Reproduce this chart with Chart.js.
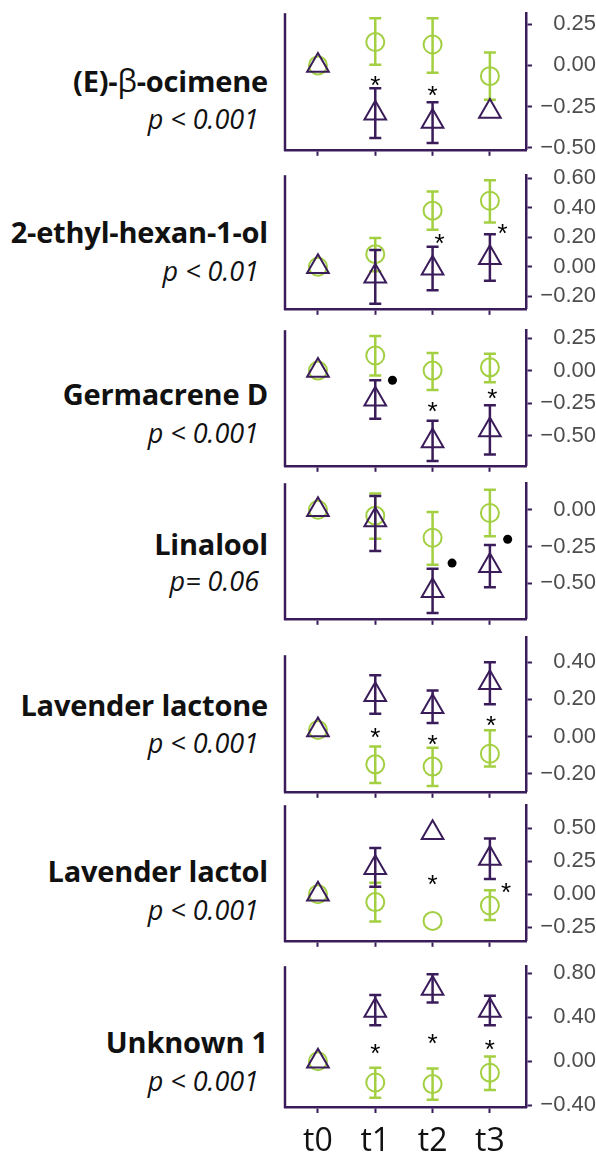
<!DOCTYPE html>
<html>
<head>
<meta charset="utf-8">
<script src="https://cdn.jsdelivr.net/npm/chart.js@4.4.1/dist/chart.umd.min.js"></script>
<style>
  html, body { margin:0; padding:0; background:#fff; }
  body { width:596px; height:1159px; position:relative; overflow:hidden; }
  canvas.panel { position:absolute; left:270px; }
  .name, .pval { position:absolute; white-space:nowrap; line-height:1; color:#111; }
  .name { right:328px; font:bold 29px 'Open Sans', sans-serif; letter-spacing:-0.2px; }
  .name .sym { font-weight:normal; font-size:31px; }
  .pval { right:337px; font:italic 27px 'Open Sans', sans-serif; }
</style>
</head>
<body>
<script>
/* ---------- data ---------- */
const categories = ['t0', 't1', 't2', 't3'];
const compounds  = ['(E)-β-ocimene', '2-ethyl-hexan-1-ol', 'Germacrene D', 'Linalool',
                    'Lavender lactone', 'Lavender lactol', 'Unknown 1'];
const pLabels    = ['p < 0.001', 'p < 0.01', 'p < 0.001', 'p= 0.06', 'p < 0.001', 'p < 0.001', 'p < 0.001'];

// y scale range and tick labels per panel
const yMin   = [-0.512, -0.285, -0.73, -0.74, -0.298, -0.354, -0.415];
const yMax   = [ 0.317,  0.62,   0.31,  0.18,  0.535,  0.675,  0.862];
const yTicks = [
  [-0.5, -0.25, 0, 0.25],
  [-0.2, 0, 0.2, 0.4, 0.6],
  [-0.5, -0.25, 0, 0.25],
  [-0.5, -0.25, 0],
  [-0.2, 0, 0.2, 0.4],
  [-0.25, 0, 0.25, 0.5],
  [-0.4, 0, 0.4, 0.8]
];

// green circles: mean, lower and upper error
const greenMean = [
  [0, 0.142, 0.127, -0.065],
  [0, 0.085, 0.38, 0.447],
  [0, 0.116, 0.0, 0.025],
  [0, -0.04, -0.19, -0.022],
  [0.035, -0.15, -0.162, -0.093],
  [0, -0.06, -0.203, -0.086],
  [0, -0.193, -0.207, -0.104]
];
const greenLo = [
  [null, 0.004, -0.045, -0.209],
  [null, -0.03, 0.25, 0.30],
  [null, -0.037, -0.148, -0.09],
  [null, -0.197, -0.373, -0.18],
  [null, -0.25, -0.267, -0.162],
  [null, -0.207, null, -0.196],
  [null, -0.33, -0.35, -0.26]
];
const greenHi = [
  [null, 0.287, 0.287, 0.079],
  [null, 0.195, 0.51, 0.585],
  [null, 0.265, 0.136, 0.13],
  [null, 0.11, -0.016, 0.136],
  [null, -0.054, -0.061, 0.033],
  [null, 0.086, null, 0.03],
  [null, -0.06, -0.065, 0.044]
];

// purple triangles: mean, lower and upper error
const purpleMean = [
  [0, -0.29, -0.34, -0.28],
  [0, -0.065, -0.01, 0.06],
  [0, -0.22, -0.54, -0.455],
  [0, -0.07, -0.55, -0.38],
  [0.035, 0.225, 0.16, 0.29],
  [0, 0.2, 0.465, 0.27],
  [0, 0.46, 0.66, 0.46]
];
const purpleLo = [
  [null, -0.44, -0.47, null],
  [null, -0.25, -0.16, -0.095],
  [null, -0.37, -0.693, -0.644],
  [null, -0.28, -0.70, -0.526],
  [null, 0.122, 0.073, 0.174],
  [null, 0.056, null, 0.115],
  [null, 0.326, 0.533, 0.326]
];
const purpleHi = [
  [null, -0.138, -0.223, null],
  [null, 0.114, 0.135, 0.22],
  [null, -0.074, -0.384, -0.265],
  [null, 0.094, -0.40, -0.24],
  [null, 0.33, 0.248, 0.40],
  [null, 0.35, null, 0.423],
  [null, 0.6, 0.79, 0.593]
];

// significance marks [x, y]
const starMarks = [
  [[1, -0.085], [2, -0.145]],
  [[2.12, 0.2], [3.22, 0.267]],
  [[2, -0.267], [3.04, -0.166]],
  [],
  [[1, 0.03], [2, -0.01], [3.02, 0.096]],
  [[2, 0.12], [3.28, 0.06]],
  [[1, 0.133], [2, 0.222], [3, 0.163]]
];
const dotMarks = [
  [], [], [[1.30, -0.074]], [[2.34, -0.362], [3.31, -0.2]], [], [], []
];

/* ---------- layout ---------- */
const panelTop    = [11, 173, 328, 481, 635, 803, 964];
const panelBottom = [152, 311, 468, 621, 794, 943, 1107];
const leftDrop    = [0, 0, 0, 0, 18, 0, 0];   // left frame line starts lower
const nameBase    = [85, 238, 400, 550, 711, 877, 1048];
const pBase       = [124, 276, 438, 586, 748, 915, 1086];

const PURPLE = '#3b1c5a';
const GREEN  = '#a3cf42';
const PADTOP = 16;
const NAME_PX = 29, P_PX = 27;

const fmt = v => (v < 0 ? '\u2212' : '') + Math.abs(v).toFixed(2);

const errorBars = {
  id: 'errorBars',
  beforeDatasetDraw(chart, args) {
    const ds = chart.data.datasets[args.index];
    if (!ds.errLo) return;
    const { ctx } = chart, xs = chart.scales.x, ys = chart.scales.y;
    ctx.save();
    ctx.strokeStyle = ds.borderColor;
    ctx.lineWidth = 2.5;
    ds.errLo.forEach((lo, i) => {
      const hi = ds.errHi[i];
      if (lo == null || hi == null) return;
      const x = xs.getPixelForValue(ds.data[i].x);
      const y1 = ys.getPixelForValue(lo), y2 = ys.getPixelForValue(hi);
      ctx.beginPath();
      ctx.moveTo(x, y1); ctx.lineTo(x, y2);
      ctx.moveTo(x - 6, y1); ctx.lineTo(x + 6, y1);
      ctx.moveTo(x - 6, y2); ctx.lineTo(x + 6, y2);
      ctx.stroke();
    });
    ctx.restore();
  }
};

const frameAndStars = {
  id: 'frameAndStars',
  afterDatasetsDraw(chart, args, opts) {
    const { ctx, chartArea } = chart;
    ctx.save();
    // left frame line
    ctx.strokeStyle = PURPLE;
    ctx.lineWidth = 2.5;
    ctx.beginPath();
    ctx.moveTo(chartArea.left, chartArea.top + opts.drop);
    ctx.lineTo(chartArea.left, chartArea.bottom + 1);
    ctx.stroke();
    // asterisks
    chart.data.datasets.forEach((ds, di) => {
      if (!ds.isStars) return;
      ctx.fillStyle = '#000';
      ctx.font = '26px "Liberation Sans"';
      ctx.textAlign = 'center';
      ctx.textBaseline = 'alphabetic';
      chart.getDatasetMeta(di).data.forEach(el => ctx.fillText('*', el.x, el.y + 0.575 * 26));
    });
    ctx.restore();
  }
};

compounds.forEach((name, p) => {
  const last = p === compounds.length - 1;
  const xh = last ? 60 : 16;
  const h = PADTOP + (panelBottom[p] - panelTop[p]) + xh;

  const cv = document.createElement('canvas');
  cv.className = 'panel';
  cv.width = 326; cv.height = h;
  cv.style.top = (panelTop[p] - PADTOP) + 'px';
  cv.style.width = '326px'; cv.style.height = h + 'px';
  document.body.appendChild(cv);

  const pts = arr => arr.map((y, i) => ({ x: i, y }));

  new Chart(cv, {
    type: 'scatter',
    data: { datasets: [
      { label: 'triangle', data: pts(purpleMean[p]), errLo: purpleLo[p], errHi: purpleHi[p],
        pointStyle: 'triangle', pointRadius: 12.5, borderColor: PURPLE, backgroundColor: 'rgba(0,0,0,0)',
        borderWidth: 2, clip: false },
      { label: 'circle', data: pts(greenMean[p]), errLo: greenLo[p], errHi: greenHi[p],
        pointStyle: 'circle', pointRadius: 9, borderColor: GREEN, backgroundColor: 'rgba(0,0,0,0)',
        borderWidth: 2, clip: false },
      { label: 'dots', data: dotMarks[p].map(([x, y]) => ({ x, y })),
        pointStyle: 'circle', pointRadius: 4.5, backgroundColor: '#000', borderWidth: 0, clip: false },
      { label: 'stars', data: starMarks[p].map(([x, y]) => ({ x, y })), isStars: true, pointRadius: 0 }
    ]},
    options: {
      responsive: false, animation: false, devicePixelRatio: 1,
      layout: { padding: { top: PADTOP, left: 15, right: 0, bottom: 0 } },
      plugins: { legend: { display: false }, tooltip: { enabled: false }, frameAndStars: { drop: leftDrop[p] } },
      scales: {
        x: {
          type: 'linear', min: -0.575, max: 3.63,
          afterBuildTicks: s => { s.ticks = categories.map((c, i) => ({ value: i })); },
          afterFit: s => { s.height = xh; },
          grid: { drawOnChartArea: false, tickLength: 6, tickWidth: 2, tickColor: PURPLE },
          border: { color: PURPLE, width: 2.5 },
          ticks: { display: last, autoSkip: false, maxRotation: 0, padding: 10,
                   callback: (v, i) => categories[i],
                   color: '#111', font: { family: 'Open Sans', size: 32 } }
        },
        y: {
          position: 'right', min: yMin[p], max: yMax[p],
          afterBuildTicks: s => { s.ticks = yTicks[p].map(v => ({ value: v })); },
          afterFit: s => { s.width = 70; },
          grid: { drawOnChartArea: false, tickLength: 6, tickWidth: 2, tickColor: PURPLE },
          border: { color: PURPLE, width: 2.5 },
          ticks: { callback: v => fmt(v), crossAlign: 'far', padding: 5,
                   color: '#4d4d4d', font: { family: 'Liberation Sans', size: 22 } }
        }
      }
    },
    plugins: [errorBars, frameAndStars]
  });

  const nm = document.createElement('div');
  nm.className = 'name';
  nm.innerHTML = name.replace('β', '<span class="sym">β</span>');
  nm.style.top = (nameBase[p] - 0.888 * NAME_PX) + 'px';
  document.body.appendChild(nm);

  const pv = document.createElement('div');
  pv.className = 'pval';
  pv.textContent = pLabels[p];
  pv.style.top = (pBase[p] - 0.888 * P_PX) + 'px';
  document.body.appendChild(pv);
});
</script>
</body>
</html>
